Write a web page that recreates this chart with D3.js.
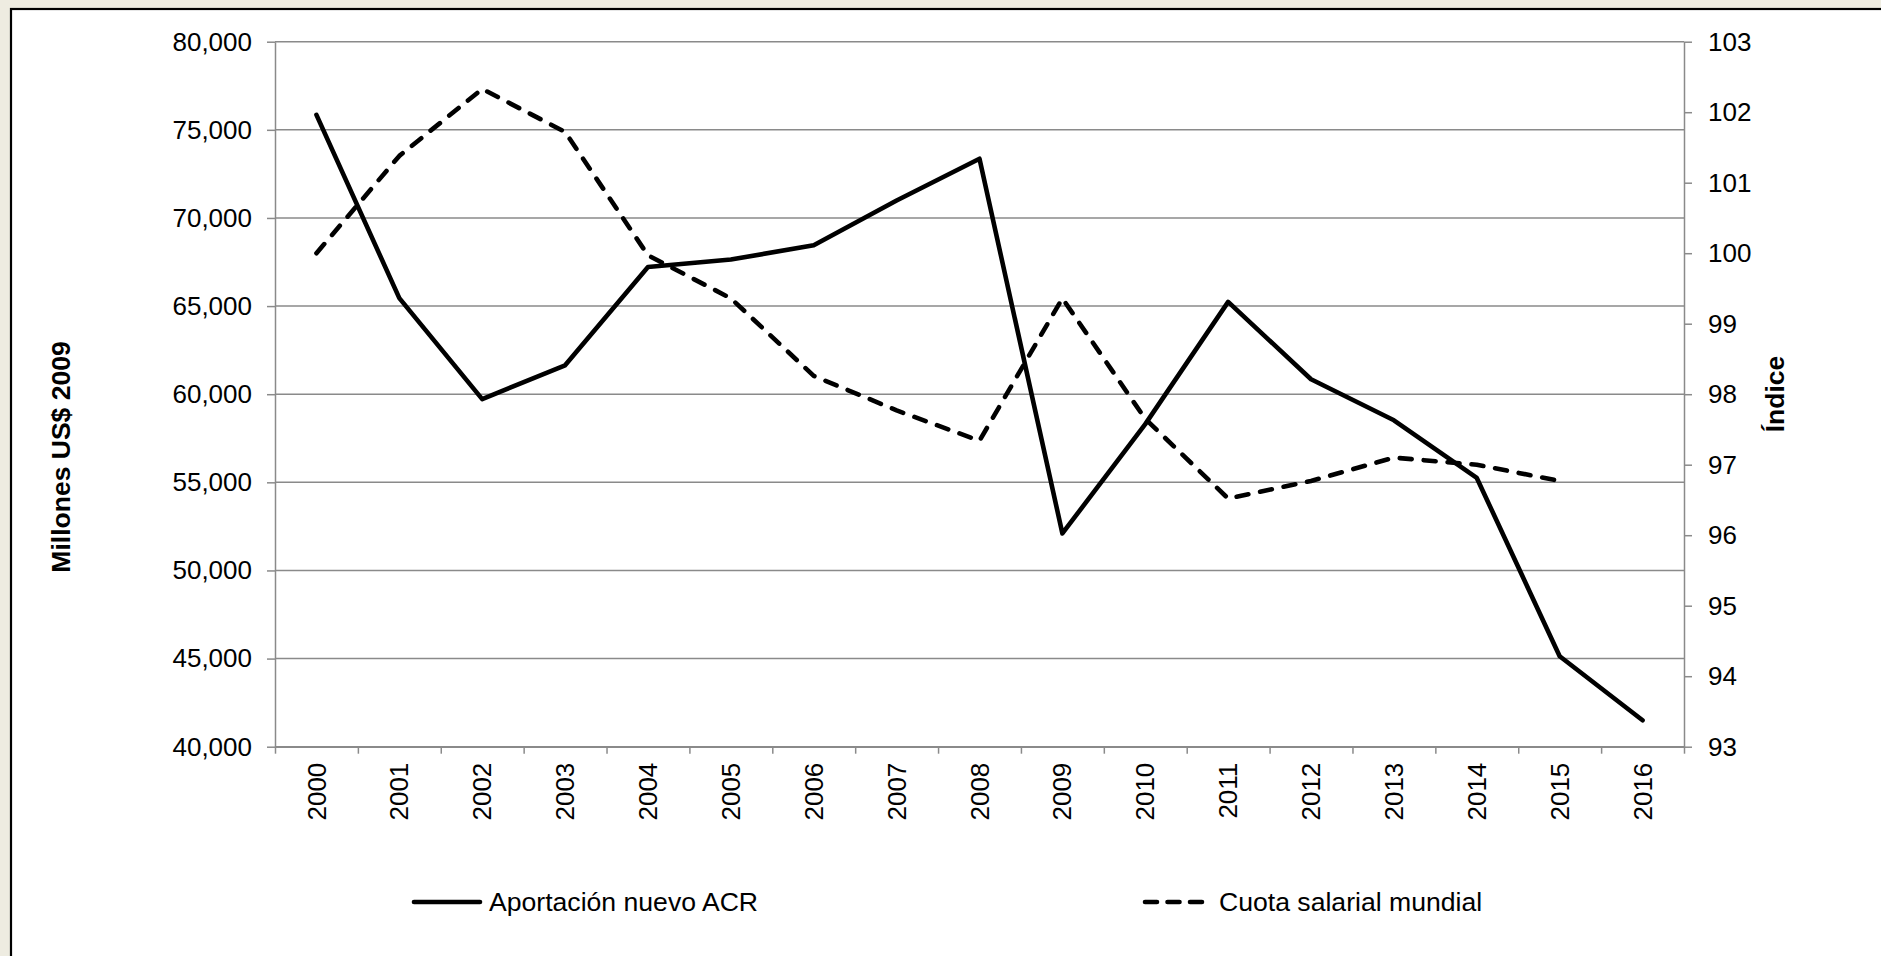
<!DOCTYPE html>
<html>
<head>
<meta charset="utf-8">
<title>Aportación nuevo ACR y cuota salarial mundial</title>
<script src="https://cdn.jsdelivr.net/npm/d3@7/dist/d3.min.js"></script>
<style>
  html, body { margin: 0; padding: 0; background: #eeece1; }
  svg { display: block; font-family: "Liberation Sans", Arial, sans-serif; }
  .grid line { stroke: #8a8a8a; stroke-width: 1.5px; }
  .axis path, .axis line { stroke: #8a8a8a; stroke-width: 1.5px; }
  .axis text { font-size: 26px; fill: #000; }
  .ytitle { font-size: 26.5px; font-weight: bold; }
  .legend text { font-size: 26.6px; }
</style>
</head>
<body>
<div id="chart"></div>
<script>
var width = 1881,
    height = 956;

// data
var years = ["2000", "2001", "2002", "2003", "2004", "2005", "2006", "2007", "2008",
             "2009", "2010", "2011", "2012", "2013", "2014", "2015", "2016"];
var aportacion = [75850, 65450, 59720, 61640, 67220, 67640, 68450, 70990, 73360,
                  52100, 58300, 65240, 60850, 58520, 55250, 45130, 41500];
var cuota = [100.0, 101.38, 102.33, 101.72, 99.97, 99.36, 98.26, 97.77, 97.34,
             99.36, 97.65, 96.52, 96.77, 97.10, 97.00, 96.77, null];
var leftTicks = [40000, 45000, 50000, 55000, 60000, 65000, 70000, 75000, 80000];
var rightTicks = [93, 94, 95, 96, 97, 98, 99, 100, 101, 102, 103];
var seriesNames = ["Aportación nuevo ACR", "Cuota salarial mundial"];

var plot = {left: 275, right: 1684, top: 41.7, bottom: 746.7};

var svg = d3.select("#chart").append("svg")
            .attr("width", width)
            .attr("height", height);

// white chart area, border runs off right/bottom
svg.append("rect")
   .attr("x", 11).attr("y", 9)
   .attr("width", width).attr("height", height)
   .attr("fill", "#fff")
   .attr("stroke", "#000")
   .attr("stroke-width", 2.2);

var x = d3.scaleBand()
          .domain(years)
          .range([plot.left, plot.right])
          .paddingInner(0).paddingOuter(0);

var xEdges = d3.scaleLinear()
               .domain([0, years.length])
               .range([plot.left, plot.right]);

var yL = d3.scaleLinear()
           .domain([40000, 80000])
           .range([plot.bottom, plot.top]);

var yR = d3.scaleLinear()
           .domain([93, 103])
           .range([plot.bottom, plot.top]);

// gridlines
svg.append("g")
   .attr("class", "grid")
   .selectAll("line")
   .data(leftTicks)
   .enter().append("line")
   .attr("x1", plot.left).attr("x2", plot.right)
   .attr("y1", function(d) { return yL(d); })
   .attr("y2", function(d) { return yL(d); });

// left axis
svg.append("g")
   .attr("class", "axis")
   .attr("transform", "translate(" + plot.left + ",0)")
   .call(d3.axisLeft(yL)
           .tickValues(leftTicks)
           .tickFormat(d3.format(","))
           .tickSize(8)
           .tickSizeOuter(0)
           .tickPadding(15));

// right axis
svg.append("g")
   .attr("class", "axis")
   .attr("transform", "translate(" + plot.right + ",0)")
   .call(d3.axisRight(yR)
           .tickValues(rightTicks)
           .tickSize(8)
           .tickSizeOuter(0)
           .tickPadding(16));

// bottom axis: ticks at category edges, labels rotated at centres
svg.append("g")
   .attr("class", "axis")
   .attr("transform", "translate(0," + plot.bottom + ")")
   .call(d3.axisBottom(xEdges)
           .tickValues(d3.range(years.length + 1))
           .tickFormat("")
           .tickSize(7)
           .tickSizeOuter(0));

svg.append("g")
   .attr("class", "axis")
   .selectAll("text")
   .data(years)
   .enter().append("text")
   .attr("transform", function(d) {
     return "translate(" + (x(d) + x.bandwidth() / 2) + "," + (plot.bottom + 16) + ") rotate(-90)";
   })
   .attr("text-anchor", "end")
   .attr("dy", "0.35em")
   .text(function(d) { return d; });

// axis titles
svg.append("text")
   .attr("class", "ytitle")
   .attr("transform", "translate(70,457) rotate(-90)")
   .attr("text-anchor", "middle")
   .text("Millones US$ 2009");

svg.append("text")
   .attr("class", "ytitle")
   .attr("transform", "translate(1784,394) rotate(-90)")
   .attr("text-anchor", "middle")
   .text("Índice");

// lines
var cx = function(d, i) { return x(years[i]) + x.bandwidth() / 2; };

var lineL = d3.line()
              .x(cx)
              .y(function(d) { return yL(d); });

var lineR = d3.line()
              .defined(function(d) { return d !== null; })
              .x(cx)
              .y(function(d) { return yR(d); });

svg.append("path")
   .datum(cuota)
   .attr("d", lineR)
   .attr("fill", "none")
   .attr("stroke", "#000")
   .attr("stroke-width", 4.6)
   .attr("stroke-linecap", "round")
   .attr("stroke-linejoin", "round")
   .attr("stroke-dasharray", "12,12");

svg.append("path")
   .datum(aportacion)
   .attr("d", lineL)
   .attr("fill", "none")
   .attr("stroke", "#000")
   .attr("stroke-width", 4.6)
   .attr("stroke-linecap", "round")
   .attr("stroke-linejoin", "round");

// legend
var legend = svg.append("g").attr("class", "legend");
var legY = 902;
legend.append("line")
      .attr("x1", 414).attr("x2", 480)
      .attr("y1", legY).attr("y2", legY)
      .attr("stroke", "#000").attr("stroke-width", 4.6)
      .attr("stroke-linecap", "round");
legend.append("text")
      .attr("x", 489).attr("y", legY)
      .attr("dy", "0.35em")
      .text(seriesNames[0]);
legend.append("line")
      .attr("x1", 1145).attr("x2", 1202)
      .attr("y1", legY).attr("y2", legY)
      .attr("stroke", "#000").attr("stroke-width", 4.6)
      .attr("stroke-linecap", "round")
      .attr("stroke-dasharray", "12,10.5");
legend.append("text")
      .attr("x", 1219).attr("y", legY)
      .attr("dy", "0.35em")
      .text(seriesNames[1]);
</script>
</body>
</html>
